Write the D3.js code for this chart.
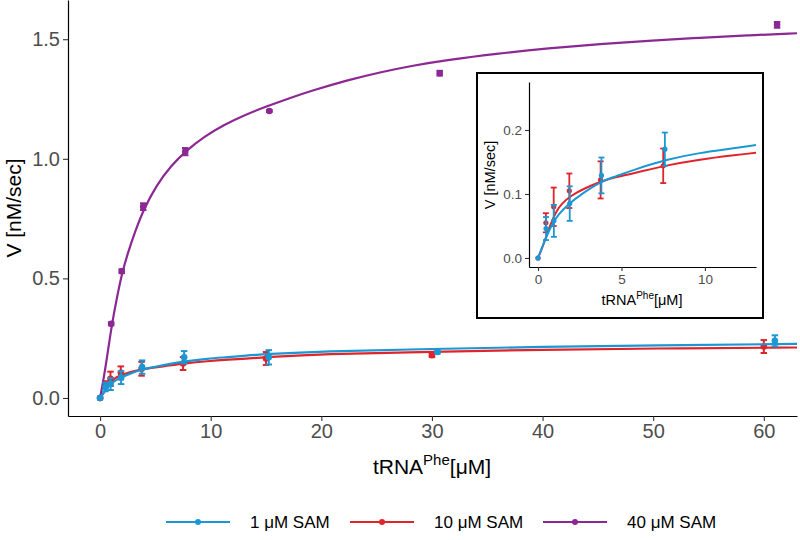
<!DOCTYPE html>
<html><head><meta charset="utf-8">
<script src="https://cdn.jsdelivr.net/npm/d3@7"></script>
<style>body{margin:0;background:#fff}svg{display:block;font-family:"Liberation Sans",Arial,sans-serif}</style>
</head><body><svg id="c" width="800" height="540"></svg>
<script>
// ---- data ----
const seriesNames = ["1 \u03BCM SAM", "10 \u03BCM SAM", "40 \u03BCM SAM"];
const seriesColors = ["#1b97d3", "#e0242b", "#8c2893"];

const xBlue = [0, 0.48, 0.95, 1.9, 3.8, 7.6, 15.25, 30.5, 61];
const vBlue = [0, 0.046, 0.058, 0.085, 0.129, 0.17, 0.17, 0.192, 0.239];
const eBlue = [0, 0.018, 0.025, 0.027, 0.028, 0.026, 0.03, 0.006, 0.023];

const xRed = [0, 0.47, 0.94, 1.875, 3.75, 7.5, 15, 30, 60];
const vRed = [0, 0.055, 0.08, 0.105, 0.122, 0.144, 0.165, 0.179, 0.215];
const eRed = [0, 0.015, 0.03, 0.027, 0.029, 0.027, 0.027, 0.008, 0.027];

const xPurple = [0, 1.0, 1.96, 3.9, 7.7, 15.3, 30.7, 61.2];
const vPurple = [0, 0.31, 0.53, 0.80, 1.03, 1.20, 1.358, 1.56];
const ePurple = [0, 0.006, 0.008, 0.014, 0.015, 0.004, 0.01, 0.012];

// fitted curves
const fitXBlue = [0, 0.42, 0.82, 1.22, 1.81, 2.6, 3.8, 4.6, 5.7, 7.7, 9.7, 11.7, 13.1, 15, 20, 30, 40, 50, 63];
const fitVBlue = [0, 0.028, 0.052, 0.068, 0.084, 0.1, 0.12, 0.127, 0.1375, 0.154, 0.1645, 0.171, 0.177, 0.183, 0.195, 0.205, 0.214, 0.22, 0.226];
const fitXRed = [0, 0.32, 0.62, 0.82, 1.12, 1.42, 2.0, 2.8, 3.8, 4.6, 5.7, 7.7, 9.7, 11.7, 13.1, 15, 20, 30, 40, 50, 63];
const fitVRed = [0, 0.02, 0.044, 0.057, 0.074, 0.085, 0.098, 0.109, 0.12, 0.126, 0.132, 0.145, 0.154, 0.1605, 0.1645, 0.17, 0.184, 0.193, 0.202, 0.207, 0.211];
const fitXPurple = [0, 0.3, 0.6, 1.0, 1.5, 2.0, 2.5, 3.2, 3.9, 5.1, 6.4, 7.8, 9.5, 11.1, 13, 15.1, 17.2, 19.3, 22.3, 25.3, 28.3, 31.3, 36.1, 40.5, 45.2, 50, 54.2, 58.5, 63];
const fitVPurple = [0, 0.075, 0.16, 0.29, 0.415, 0.525, 0.605, 0.70, 0.785, 0.89, 0.97, 1.035, 1.095, 1.14, 1.182, 1.22, 1.255, 1.287, 1.328, 1.362, 1.39, 1.413, 1.441, 1.462, 1.48, 1.495, 1.506, 1.516, 1.525];

const mainXTicks = [0, 10, 20, 30, 40, 50, 60];
const mainYTicks = [0, 0.5, 1.0, 1.5];
const insetXTicks = [0, 5, 10];
const insetYTicks = [0, 0.1, 0.2];

const pts = (xs, vs, es) => xs.map((x, i) => ({x, v: vs[i], e: es[i]}));
const fit = (xs, vs) => xs.map((x, i) => ({x, v: vs[i]}));
// draw order: red, purple, blue
const series = [
  {color: seriesColors[1], pts: pts(xRed, vRed, eRed), fit: fit(fitXRed, fitVRed), inset: true},
  {color: seriesColors[2], pts: pts(xPurple, vPurple, ePurple), fit: fit(fitXPurple, fitVPurple), inset: false},
  {color: seriesColors[0], pts: pts(xBlue, vBlue, eBlue), fit: fit(fitXBlue, fitVBlue), inset: true}
];

const svg = d3.select("#c");
const defs = svg.append("defs");

function panel(opts) {
  const {x0, x1, y0, y1, xDom, yDom, xTicks, yTicks, tickFs, tickLen, lw, r, capW, clipId, onlyInset} = opts;
  const x = d3.scaleLinear().domain(xDom).range([x0, x1]);
  const y = d3.scaleLinear().domain(yDom).range([y1, y0]);
  defs.append("clipPath").attr("id", clipId).append("rect")
    .attr("x", x0).attr("y", y0).attr("width", x1 - x0).attr("height", y1 - y0);
  const g = svg.append("g");
  const ax = g.append("g").attr("transform", `translate(0,${y1})`)
    .call(d3.axisBottom(x).tickValues(xTicks).tickSize(tickLen).tickPadding(3).tickSizeOuter(0).tickFormat(d3.format("d")));
  const ay = g.append("g").attr("transform", `translate(${x0},0)`)
    .call(d3.axisLeft(y).tickValues(yTicks).tickSize(tickLen).tickPadding(3).tickSizeOuter(0).tickFormat(d3.format(".1f")));
  [ax, ay].forEach(a => {
    a.select(".domain").attr("stroke", "#000").attr("stroke-width", 1.2);
    a.selectAll(".tick line").attr("stroke", "#333").attr("stroke-width", 1.1);
    a.selectAll(".tick text").attr("fill", "#4d4d4d").attr("font-size", tickFs)
      .attr("font-family", "Liberation Sans, Arial, sans-serif");
  });
  const body = g.append("g").attr("clip-path", `url(#${clipId})`);
  const line = d3.line().x(d => x(d.x)).y(d => y(d.v)).curve(d3.curveBasis);
  series.filter(s => !onlyInset || s.inset).forEach(s => {
    const sg = body.append("g");
    sg.append("path").datum(s.fit).attr("d", line).attr("fill", "none")
      .attr("stroke", s.color).attr("stroke-width", lw);
    const eb = sg.selectAll(".eb").data(s.pts.filter(d => d.e > 0)).enter().append("g");
    eb.append("line").attr("x1", d => x(d.x)).attr("x2", d => x(d.x))
      .attr("y1", d => y(d.v - d.e)).attr("y2", d => y(d.v + d.e))
      .attr("stroke", s.color).attr("stroke-width", lw * 0.9);
    [-1, 1].forEach(sg2 => {
      eb.append("line").attr("x1", d => x(d.x) - capW / 2).attr("x2", d => x(d.x) + capW / 2)
        .attr("y1", d => y(d.v + sg2 * d.e)).attr("y2", d => y(d.v + sg2 * d.e))
        .attr("stroke", s.color).attr("stroke-width", lw * 0.9);
    });
    sg.selectAll("circle").data(s.pts).enter().append("circle")
      .attr("cx", d => x(d.x)).attr("cy", d => y(d.v)).attr("r", r).attr("fill", s.color);
  });
  return {x, y, g};
}

// main panel
const m = panel({x0: 68, x1: 797, y0: 0, y1: 416, xDom: [-2.9, 63], yDom: [-0.0754, 1.664],
  xTicks: mainXTicks, yTicks: mainYTicks, tickFs: 20, tickLen: 5, lw: 2.2, r: 3.3, capW: 6.5, clipId: "cm", onlyInset: false});
svg.append("text").attr("transform", "translate(21,208) rotate(-90)").attr("text-anchor", "middle")
  .attr("font-size", 21).attr("fill", "#000").text("V [nM/sec]");
const xt = svg.append("text").attr("x", 432).attr("y", 474).attr("text-anchor", "middle")
  .attr("font-size", 21).attr("fill", "#000");
xt.append("tspan").text("tRNA");
xt.append("tspan").attr("font-size", 15).attr("dy", -9).text("Phe");
xt.append("tspan").attr("dy", 9).text("[\u03BCM]");

// inset box
svg.append("rect").attr("x", 477).attr("y", 73).attr("width", 286).attr("height", 245)
  .attr("fill", "#fff").attr("stroke", "#000").attr("stroke-width", 2);
const ins = panel({x0: 529, x1: 756, y0: 82, y1: 267, xDom: [-0.54, 13.06], yDom: [-0.0141, 0.275],
  xTicks: insetXTicks, yTicks: insetYTicks, tickFs: 13.5, tickLen: 4, lw: 2, r: 2.6, capW: 6, clipId: "ci", onlyInset: true});
svg.append("text").attr("transform", "translate(495,175) rotate(-90)").attr("text-anchor", "middle")
  .attr("font-size", 14.5).attr("fill", "#000").text("V [nM/sec]");
const xt2 = svg.append("text").attr("x", 642).attr("y", 305).attr("text-anchor", "middle")
  .attr("font-size", 14.5).attr("fill", "#000");
xt2.append("tspan").text("tRNA");
xt2.append("tspan").attr("font-size", 10).attr("dy", -6).text("Phe");
xt2.append("tspan").attr("dy", 6).text("[\u03BCM]");

// legend
const legX = [166, 350, 543];
seriesNames.forEach((n, i) => {
  const lg = svg.append("g").attr("transform", `translate(${legX[i]},522)`);
  lg.append("line").attr("x1", 0).attr("x2", 64).attr("y1", 0).attr("y2", 0)
    .attr("stroke", seriesColors[i]).attr("stroke-width", 2.2);
  lg.append("circle").attr("cx", 32).attr("cy", 0).attr("r", 3).attr("fill", seriesColors[i]);
  lg.append("text").attr("x", 84).attr("y", 6).attr("font-size", 17).attr("fill", "#000").text(n);
});
</script></body></html>
